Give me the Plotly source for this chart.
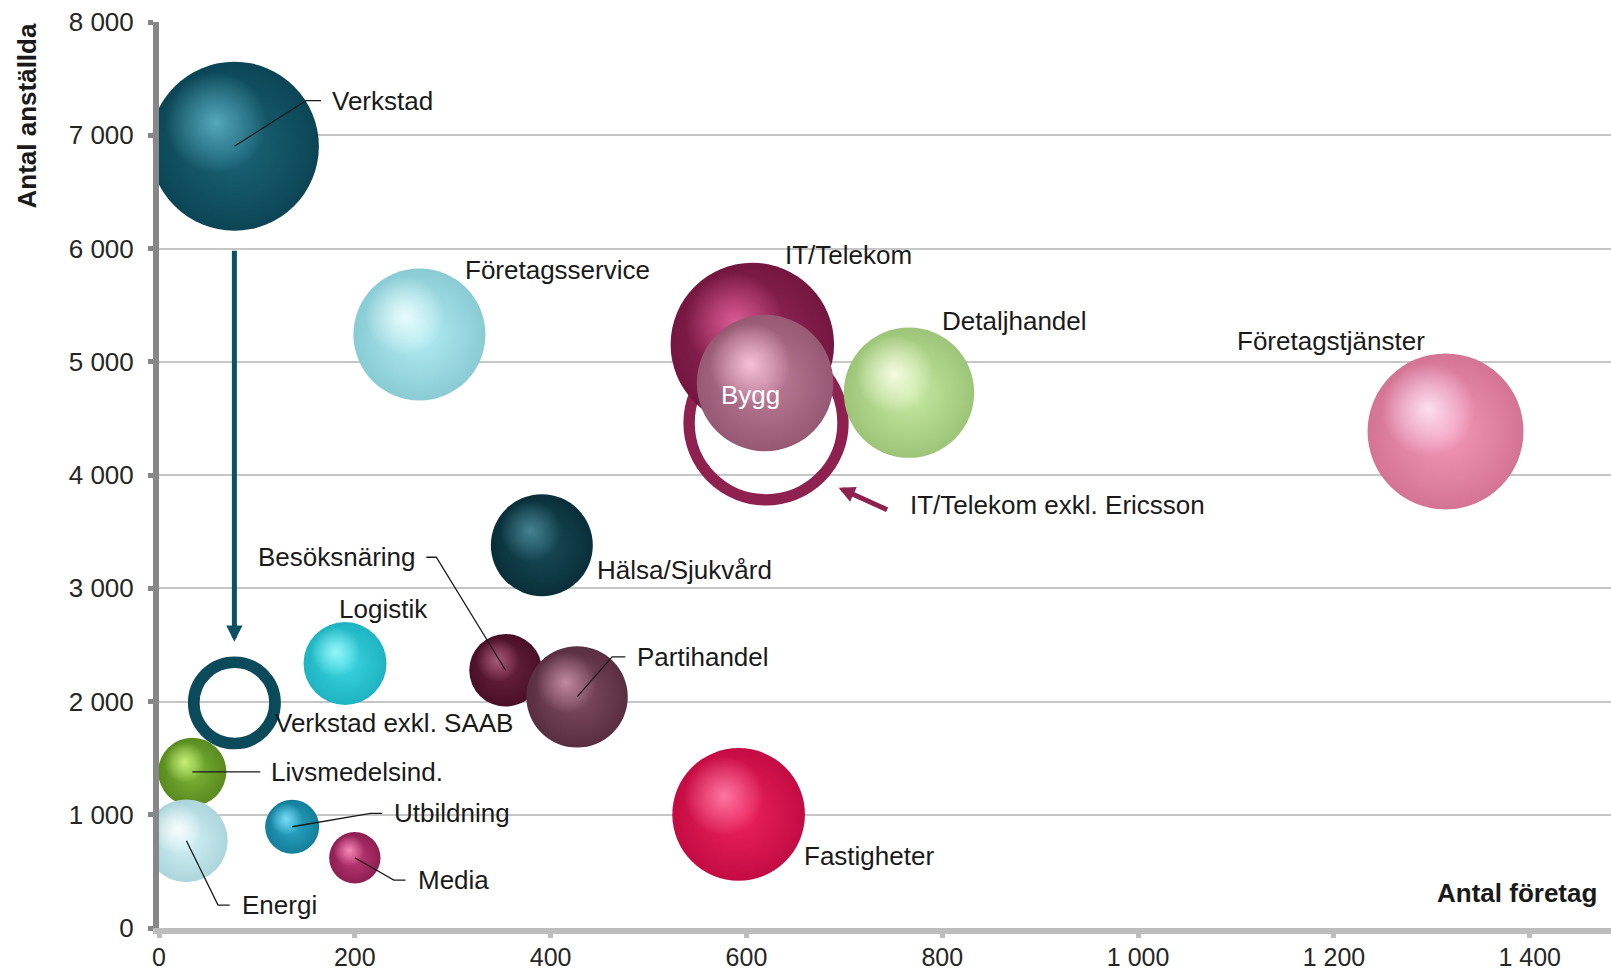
import plotly.graph_objects as go

# ---------------- DATA ----------------
bransch = ["IT/Telekom exkl. Ericsson", "IT/Telekom", "Bygg", "Detaljhandel",
           "Företagstjänster", "Företagsservice", "Verkstad", "Hälsa/Sjukvård",
           "Logistik", "Besöksnäring", "Partihandel", "Livsmedelsind.",
           "Verkstad exkl. SAAB", "Energi", "Utbildning", "Media", "Fastigheter"]
antal_foretag = [620, 606, 619, 766, 1314, 266, 77, 391, 190, 354, 427, 34, 77, 28, 136, 200, 592]
antal_anstallda = [4460, 5153, 4812, 4727, 4385, 5241, 6903, 3380, 2336, 2276, 2041, 1379, 1988, 770, 894, 620, 1003]
bubbelstorlek = [592, 668, 466, 425, 608, 436, 714, 260, 172, 132, 257, 116, 165, 171, 73, 66, 440]
ring = ["IT/Telekom exkl. Ericsson", "Verkstad exkl. SAAB"]

y_ticks = [0, 1000, 2000, 3000, 4000, 5000, 6000, 7000, 8000]
y_ticktext = ["0", "1 000", "2 000", "3 000", "4 000", "5 000", "6 000", "7 000", "8 000"]
x_ticks = [0, 200, 400, 600, 800, 1000, 1200, 1400]
x_ticktext = ["0", "200", "400", "600", "800", "1 000", "1 200", "1 400"]

# ---------------- STYLE ----------------
FONT = "Liberation Sans, Arial, sans-serif"
W, H = 1611, 972
M = dict(l=159, r=0, t=22, b=44)
X_RANGE = [0, 1483]
Y_RANGE = [0, 8000]

colors = {  # (highlight, body, edge) for spheres; single colour for rings
    "IT/Telekom exkl. Ericsson": "#8e2150",
    "IT/Telekom": ("#e0609a", "#8e1f50", "#4c0828"),
    "Bygg": ("#ffc8e0", "#b4728e", "#6a3048"),
    "Detaljhandel": ("#fbffe8", "#bfe898", "#6a9048"),
    "Företagstjänster": ("#ffe8f8", "#f28cae", "#a8506e"),
    "Företagsservice": ("#f0ffff", "#a8eaf2", "#5e9ea6"),
    "Verkstad": ("#5ab0c2", "#10596c", "#032833"),
    "Hälsa/Sjukvård": ("#4a8896", "#0e404c", "#01161d"),
    "Logistik": ("#a0fcff", "#2ad0de", "#0c8794"),
    "Besöksnäring": ("#b06080", "#5e1632", "#2a0412"),
    "Partihandel": ("#c890a8", "#714054", "#351420"),
    "Livsmedelsind.": ("#d0f880", "#70aa2c", "#335a0a"),
    "Verkstad exkl. SAAB": "#0b4a5a",
    "Energi": ("#ffffff", "#caf0f4", "#7fb0b8"),
    "Utbildning": ("#80e4ff", "#1c9cbc", "#065066"),
    "Media": ("#ff90c0", "#b02c68", "#5a0a30"),
    "Fastigheter": ("#ff80a8", "#ea1250", "#8a0030"),
}
ring_width = {"IT/Telekom exkl. Ericsson": 11.4, "Verkstad exkl. SAAB": 11.7}

# label placement: (dx px, dy px up, xanchor, colour, leader-path points)
labels = {
    "Verkstad": (96, 45.7, "left", None, [(71.7, 45.7), (86.7, 45.7)]),
    "Företagsservice": (44, 64, "left", None, None),
    "IT/Telekom": (30.7, 89, "left", None, None),
    "Bygg": (-15, -12.3, "center", "white", None),
    "Detaljhandel": (31, 71.6, "left", None, None),
    "Företagstjänster": (-19, 90.5, "right", None, None),
    "IT/Telekom exkl. Ericsson": (142, -82.5, "left", None, None),
    "Hälsa/Sjukvård": (53.3, -25, "left", None, None),
    "Logistik": (38.3, 54.3, "center", None, None),
    "Besöksnäring": (-88, 113, "right", None, [(-69.3, 113), (-79.3, 113)]),
    "Partihandel": (57.6, 40, "left", None, [(35, 40), (48.3, 40)]),
    "Verkstad exkl. SAAB": (39, -20.6, "left", None, None),
    "Livsmedelsind.": (76.6, 0, "left", None, [(68, 0)]),
    "Energi": (53.3, -64.3, "left", None, [(31.6, -64.3), (43.3, -64.3)]),
    "Utbildning": (100, 13.4, "left", None, [(78.3, 13.4), (90, 13.4)]),
    "Media": (60.7, -22.3, "left", None, [(39, -22.3), (50.7, -22.3)]),
    "Fastigheter": (63.7, -41.7, "left", None, None),
}


def hex2rgb(h):
    h = h.lstrip("#")
    return tuple(int(h[i:i + 2], 16) for i in (0, 2, 4))


def mix(a, b, t):
    ra, rb = hex2rgb(a), hex2rgb(b)
    return "rgb(%d,%d,%d)" % tuple(round(x + (y - x) * t) for x, y in zip(ra, rb))


def rgba(h, a):
    r, g, b = hex2rgb(h)
    return f"rgba({r},{g},{b},{a})"


MAX_R = 84.5
sizeref = max(bubbelstorlek) / (2 * MAX_R ** 2)
px_per_x = (W - M["l"] - M["r"]) / (X_RANGE[1] - X_RANGE[0])
px_per_y = (H - M["t"] - M["b"]) / (Y_RANGE[1] - Y_RANGE[0])

fig = go.Figure()
for name, xv, yv, s in zip(bransch, antal_foretag, antal_anstallda, bubbelstorlek):
    if name in ring:
        marker = dict(size=[s], sizemode="area", sizeref=sizeref, color="rgba(0,0,0,0)",
                      opacity=1, line=dict(color=colors[name], width=ring_width[name]))
        fig.add_trace(go.Scatter(x=[xv], y=[yv], mode="markers", marker=marker,
                                 name=name, hoverinfo="name", cliponaxis=True))
        continue
    hi, body, edge = colors[name]
    # base sphere
    fig.add_trace(go.Scatter(
        x=[xv], y=[yv], mode="markers", name=name, hoverinfo="name", cliponaxis=True,
        marker=dict(size=[s], sizemode="area", sizeref=sizeref, opacity=1,
                    color=mix(body, edge, 0.4),
                    gradient=dict(type="radial", color=mix(body, hi, 0.15)),
                    line=dict(width=0))))
    # specular highlight, shifted up-left relative to the sphere
    r_px = (s / (2 * sizeref)) ** 0.5
    fig.add_trace(go.Scatter(
        x=[xv - 0.22 * r_px / px_per_x], y=[yv + 0.28 * r_px / px_per_y],
        mode="markers", hoverinfo="skip", cliponaxis=True,
        marker=dict(size=[s * 0.36], sizemode="area", sizeref=sizeref, opacity=1,
                    color=rgba(hi, 0), gradient=dict(type="radial", color=rgba(hi, 0.9)),
                    line=dict(width=0))))

annotations = []
shapes = []
pos = {n: (xv, yv) for n, xv, yv in zip(bransch, antal_foretag, antal_anstallda)}
for name, (dx, dy, anchor, col, leader) in labels.items():
    xv, yv = pos[name]
    annotations.append(dict(x=xv, y=yv, xref="x", yref="y", text=name, showarrow=False,
                            xanchor=anchor, yanchor="middle", xshift=dx, yshift=dy,
                            font=dict(family=FONT, size=26, color=col or "#1a1a1a")))
    if leader:
        path = "M0,0 " + " ".join(f"L{px},{py}" for px, py in leader)
        shapes.append(dict(type="path", xref="x", yref="y", xsizemode="pixel", ysizemode="pixel",
                           xanchor=xv, yanchor=yv, path=path, fillcolor="rgba(0,0,0,0)",
                           line=dict(color="#1a1a1a", width=1.3), layer="above"))

# arrow Verkstad -> Verkstad exkl. SAAB
vx, vy = pos["Verkstad"]
sx, sy = pos["Verkstad exkl. SAAB"]
annotations.append(dict(x=sx, y=sy, ax=vx, ay=vy, xref="x", yref="y", axref="x", ayref="y",
                        text="", showarrow=True, arrowhead=2, arrowsize=0.65, arrowwidth=5,
                        arrowcolor="#0b5163", standoff=61, startstandoff=103))
# arrow pointing at IT/Telekom exkl. Ericsson ring
ex, ey = pos["IT/Telekom exkl. Ericsson"]
annotations.append(dict(x=ex, y=ey, xref="x", yref="y", xshift=72.6, yshift=-64.8,
                        ax=50, ay=22.7, text="", showarrow=True, arrowhead=2, arrowsize=0.65,
                        arrowwidth=5, arrowcolor="#8e2150"))

# axis titles
annotations.append(dict(x=0, y=1, xref="paper", yref="paper", xanchor="center", yanchor="top",
                        xshift=-133, textangle=-90, showarrow=False, text="<b>Antal anställda</b>",
                        font=dict(family=FONT, size=26, color="#1a1a1a")))
annotations.append(dict(x=1, y=0, xref="paper", yref="paper", xanchor="right", yanchor="middle",
                        xshift=-12, yshift=35, showarrow=False, text="<b>Antal företag</b>",
                        font=dict(family=FONT, size=26, color="#1a1a1a")))

fig.update_layout(
    width=W, height=H,
    margin=M,
    paper_bgcolor="white", plot_bgcolor="white",
    showlegend=False,
    font=dict(family=FONT, size=26, color="#262626"),
    annotations=annotations, shapes=shapes,
)
fig.update_xaxes(range=X_RANGE, tickvals=x_ticks, ticktext=x_ticktext, showgrid=False,
                 zeroline=False, showline=True, linecolor="#bdbdbd", linewidth=6,
                 ticks="outside", ticklen=4, tickwidth=5, tickcolor="#bdbdbd", automargin=False,
                 ticklabelstandoff=-2, tickfont=dict(family=FONT, size=25, color="#262626"))
fig.update_yaxes(range=Y_RANGE, tickvals=y_ticks, ticktext=y_ticktext, showgrid=True,
                 gridcolor="#c6c6c6", gridwidth=1.5, zeroline=False, showline=True,
                 linecolor="#878787", linewidth=6, ticks="outside", ticklen=5, tickwidth=5,
                 tickcolor="#878787", ticklabelstandoff=9, automargin=False,
                 tickfont=dict(family=FONT, size=26, color="#262626"))

fig.write_html("out.html", config={"displayModeBar": False},
               post_script="document.body.style.margin='0';document.body.style.overflow='hidden';")
